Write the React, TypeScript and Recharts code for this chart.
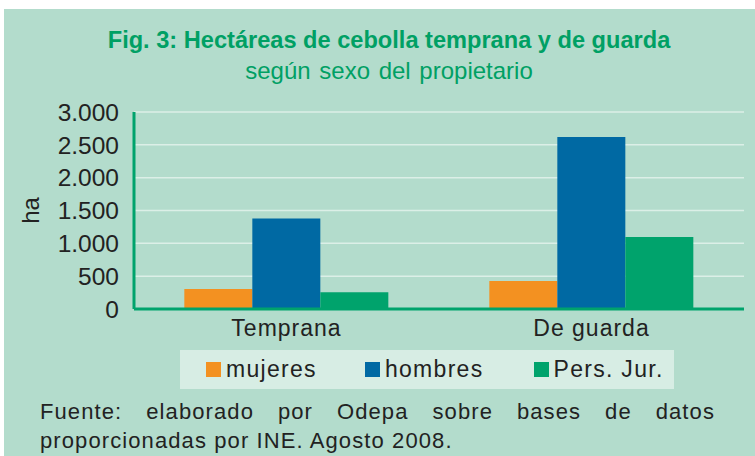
import React from 'react';
import { BarChart, Bar, XAxis, YAxis, CartesianGrid } from 'recharts';

const categories = ['Temprana', 'De guarda'];
const mujeres = [305, 426];
const hombres = [1380, 2620];
const persJur = [254, 1096];
const yTicks = [0, 500, 1000, 1500, 2000, 2500, 3000];

const SERIES = [
  { key: 'mujeres', name: 'mujeres', color: '#f39121' },
  { key: 'hombres', name: 'hombres', color: '#0069a3' },
  { key: 'persJur', name: 'Pers. Jur.', color: '#00a36c' },
];
const FONT = '"Liberation Sans", Arial, sans-serif';
const GREEN = '#00a064';

const data = categories.map((c, i) => ({
  name: c,
  mujeres: mujeres[i],
  hombres: hombres[i],
  persJur: persJur[i],
}));

const fmt = (v: number) => v.toLocaleString('de-DE');

const LegendBox = () => (
  <div
    style={{
      position: 'absolute',
      left: 176,
      top: 341,
      background: '#d7ede4',
      width: 494,
      height: 39,
      display: 'flex',
      alignItems: 'center',
      fontFamily: FONT,
      fontSize: 23,
      letterSpacing: 1.3,
      color: '#222',
    }}
  >
    {SERIES.map((s, i) => (
      <div key={s.key} style={{ display: 'flex', alignItems: 'center', marginLeft: i === 0 ? 26 : i === 1 ? 48 : 50 }}>
        <span style={{ width: 15, height: 15, background: s.color, display: 'inline-block', marginRight: 5 }} />
        <span>{s.name}</span>
      </div>
    ))}
  </div>
);

export default function App() {
  return (
    <div style={{ position: 'absolute', left: 4, top: 9, width: 751, height: 447, background: '#b3dccc', overflow: 'hidden' }}>
      <div style={{ position: 'absolute', top: 18, width: 770, textAlign: 'center', fontFamily: '"Liberation Sans Narrow", "Liberation Sans", Arial', fontWeight: 'bold', fontSize: 23.6, color: GREEN }}>
        Fig. 3: Hectáreas de cebolla temprana y de guarda
      </div>
      <div style={{ position: 'absolute', top: 48, width: 770, textAlign: 'center', fontFamily: '"Liberation Sans Narrow", "Liberation Sans", Arial', fontSize: 24, color: GREEN, wordSpacing: 2 }}>
        según sexo del propietario
      </div>
      <div style={{ position: 'absolute', top: 0, left: 0 }}>
        <BarChart width={751} height={340} data={data} margin={{ top: 103, right: 11, bottom: 10, left: 0 }} barCategoryGap="16.5%" barGap={0}>
          <CartesianGrid vertical={false} stroke="#dcefe7" strokeWidth={1.5} />
          <XAxis
            dataKey="name"
            axisLine={{ stroke: '#00a36c', strokeWidth: 3 }}
            tickLine={false}
            tick={{ fill: '#222', fontSize: 23, fontFamily: FONT, letterSpacing: 1 } as any}
            tickMargin={5}
            height={30}
          />
          <YAxis
            width={130}
            domain={[0, 3000]}
            ticks={yTicks}
            interval={0}
            tickFormatter={fmt}
            axisLine={{ stroke: '#00a36c', strokeWidth: 3 }}
            tickLine={false}
            tickSize={0}
            tickMargin={15}
            tick={{ fill: '#222', fontSize: 24.5, fontFamily: FONT }}
            label={{ value: 'ha', angle: -90, position: 'insideLeft', offset: 26, style: { fill: '#222', fontSize: 24, fontFamily: FONT, textAnchor: 'middle' } } as any}
          />
          {SERIES.map((s) => (
            <Bar key={s.key} dataKey={s.key} name={s.name} fill={s.color} isAnimationActive={false} />
          ))}
        </BarChart>
      </div>
      <LegendBox />
      <div style={{ position: 'absolute', left: 36, top: 388, width: 675, fontFamily: FONT, fontSize: 22, color: '#222', lineHeight: '29px', letterSpacing: 1.1 }}>
        <div style={{ textAlign: 'justify', textAlignLast: 'justify' } as any}>Fuente: elaborado por Odepa sobre bases de datos</div>
        <div>proporcionadas por INE. Agosto 2008.</div>
      </div>
    </div>
  );
}
